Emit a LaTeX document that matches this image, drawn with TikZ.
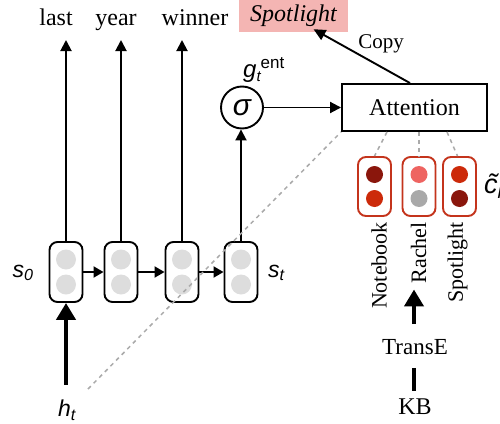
\documentclass[tikz,border=0pt]{standalone}
\usepackage{fontspec}
\setmainfont{Liberation Serif}
\newfontfamily\labelsans{Liberation Sans}
\usetikzlibrary{arrows.meta}

\definecolor{cellgrey}{HTML}{DDDDDD}
\definecolor{entred}{HTML}{C4341C}
\definecolor{darkent}{HTML}{8A160C}
\definecolor{mident}{HTML}{CC2A0A}
\definecolor{lightent}{HTML}{EE6461}
\definecolor{greyent}{HTML}{A9A9A9}
\definecolor{hilite}{HTML}{F4B5B3}
\definecolor{dashgrey}{HTML}{AAAAAA}

\begin{document}
\begin{tikzpicture}[x=1pt,y=-1pt,
  word/.style={font=\fontsize{24}{28}\selectfont, inner sep=0pt, anchor=base},
  cell/.style={draw, line width=1.9pt, rounded corners=8pt, minimum width=33pt,
    minimum height=60pt, inner sep=0pt},
  entbox/.style={draw=entred, line width=1.9pt, rounded corners=8pt, minimum width=33pt,
    minimum height=59pt, inner sep=0pt},
  entlabel/.style={font=\fontsize{22}{24}\selectfont, rotate=90, anchor=east, inner sep=0pt},
  seriftext/.style={font=\fontsize{23}{26}\selectfont, inner sep=0pt},
  sanslabel/.style={font=\fontsize{23}{26}\selectfont\labelsans\itshape, inner sep=0pt},
  thinarrow/.style={line width=1.9pt, -{Triangle[length=11pt,width=11pt]}},
  smallarrow/.style={line width=1.9pt, -{Triangle[length=10pt,width=11pt]}},
  bigarrow/.style={line width=4.5pt, -{Triangle[length=17pt,width=19pt]}},
  guide/.style={draw=dashgrey, line width=1.5pt, dash pattern=on 4pt off 4pt},
]
\useasboundingbox (0,0) rectangle (500,423);

% output words
\node[word] (wlast) at (56,25) {last};
\node[word] (wyear) at (116,25) {year};
\node[word] (wwinner) at (195,25) {winner};
\node[font=\fontsize{24}{28}\selectfont\itshape, fill=hilite, inner sep=0pt,
  minimum width=109pt, minimum height=32pt] (spot) at (293.5,16) {Spotlight};

% decoder cells
\node[cell] (c0) at (66,272) {};
\node[cell] (c1) at (121,272) {};
\node[cell] (c2) at (182,272) {};
\node[cell] (c3) at (241,272) {};
\foreach \c in {c0,c1,c2,c3}{
  \fill[cellgrey] ([yshift=12.5pt]\c.center) circle (10pt);
  \fill[cellgrey] ([yshift=-12.5pt]\c.center) circle (10pt);
}
\draw[smallarrow] (c0.east) -- (c1.west);
\draw[smallarrow] (c1.east) -- (c2.west);
\draw[smallarrow] (c2.east) -- (c3.west);

\node[sanslabel] (s0) at (23,273) {s\textsubscript{0}};
\node[sanslabel, anchor=west] (st) at (268,273) {s\textsubscript{t}};

% output arrows
\coordinate (t0) at (66,40);
\coordinate (t1) at (121,40);
\coordinate (t2) at (182,40);
\draw[thinarrow] (c0.north) -- (t0);
\draw[thinarrow] (c1.north) -- (t1);
\draw[thinarrow] (c2.north) -- (t2);

% gate
\node[draw, circle, line width=1.9pt, minimum size=42pt, inner sep=0pt,
  font=\fontsize{30}{30}\selectfont\labelsans\itshape] (sig) at (242,107.5) {σ};
\node[anchor=base west, inner sep=0pt, font=\fontsize{24}{24}\selectfont\labelsans\itshape]
  (gate) at (243,77) {g\raisebox{-4pt}{\fontsize{15}{15}\selectfont t}\raisebox{9pt}{\upshape\fontsize{17}{17}\selectfont ent}};
\draw[thinarrow] (c3.north) -- (c3.north |- sig.south);

% attention
\node[draw, line width=1.9pt, minimum width=145pt, minimum height=47pt, inner sep=0pt,
  font=\fontsize{24}{28}\selectfont] (att) at (414.5,107.5) {Attention};
\draw[thinarrow] (sig.east) -- (att.west);
\draw[line width=1.9pt, -{Triangle[length=12pt,width=11pt]}]
  ([xshift=-4.5pt]att.north) -- ([xshift=20pt,yshift=3pt]spot.south);
\node[seriftext, font=\fontsize{21}{24}\selectfont] (copy) at (381,44) {Copy};

% encoder input
\node[sanslabel] (ht) at (67,410) {h\textsubscript{t}};
\draw[bigarrow, shorten <=15pt] (c0.south |- ht.north) -- (c0.south);
\coordinate (hdash) at (88,389);
\draw[guide] (hdash) -- (att.south west);

% entity embeddings
\node[entbox] (e1) at (374.5,186.5) {};
\node[entbox] (e2) at (419,186.5) {};
\node[entbox] (e3) at (459.5,186.5) {};
\fill[darkent] ([yshift=12pt]e1.center) circle (8.5pt);
\fill[mident] ([yshift=-12pt]e1.center) circle (8.5pt);
\fill[lightent] ([yshift=12pt]e2.center) circle (8.5pt);
\fill[greyent] ([yshift=-12pt]e2.center) circle (8.5pt);
\fill[mident] ([yshift=12pt]e3.center) circle (8.5pt);
\fill[darkent] ([yshift=-12pt]e3.center) circle (8.5pt);
\draw[guide] ([xshift=-27.5pt]att.south) -- (e1.north);
\draw[guide] ([xshift=4.5pt]att.south) -- (e2.north);
\draw[guide] ([xshift=32.5pt]att.south) -- ([xshift=-2pt]e3.north);

\node[font=\fontsize{27}{27}\selectfont\labelsans\itshape, anchor=west, inner sep=0pt]
  (ctil) at (484,186) {\~{c}\textsubscript{k}};

\node[entlabel] (nnote) at (379,222) {Notebook};
\node[entlabel] (nrach) at (418.5,222) {Rachel};
\node[entlabel] (nspot) at (457.5,222) {Spotlight};

% knowledge base
\node[seriftext] (transe) at (415,347) {TransE};
\node[seriftext, font=\fontsize{24}{26}\selectfont] (kb) at (415,407) {KB};
\draw[bigarrow, shorten <=15pt, shorten >=6pt] ([xshift=-1pt]transe.north) -- ([xshift=-1pt]transe.north |- nrach.west);
\draw[line width=4.5pt, shorten <=13pt, shorten >=8pt] ([xshift=-1pt]kb.north |- transe.south) -- ([xshift=-1pt]kb.north);
\end{tikzpicture}
\end{document}
